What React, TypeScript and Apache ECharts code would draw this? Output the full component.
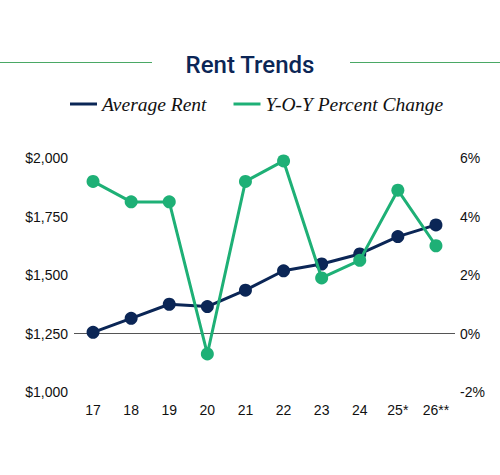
import React, { useEffect, useRef } from "react";
import * as echarts from "echarts";

const years = ["17", "18", "19", "20", "21", "22", "23", "24", "25*", "26**"];
const averageRent = [1255, 1315, 1375, 1365, 1435, 1518, 1547, 1590, 1664, 1714];
const yoyChange = [5.2, 4.5, 4.5, -0.7, 5.2, 5.9, 1.9, 2.5, 4.9, 3.0];
const rentTicks = [1000, 1250, 1500, 1750, 2000];
const pctTicks = [-2, 0, 2, 4, 6];

const NAVY = "#0b2656";
const GREEN = "#1eb076";

function fmtRent(v: number) {
  return "$" + v.toLocaleString("en-US");
}

export default function App() {
  const ref = useRef<HTMLDivElement>(null);
  useEffect(() => {
    document.body.style.margin = "0";
    if (!ref.current) return;
    const chart = echarts.init(ref.current, undefined, { renderer: "svg" });
    chart.setOption({
      animation: false,
      backgroundColor: "#ffffff",
      title: {
        text: "Rent Trends",
        left: "center",
        top: 48,
        textStyle: {
          fontFamily: "Roboto",
          fontWeight: 500,
          fontSize: 24,
          color: NAVY,
        },
      },
      graphic: [
        {
          type: "line",
          shape: { x1: 0, y1: 62.5, x2: 152, y2: 62.5 },
          style: { stroke: "#4aa865", lineWidth: 1.2 },
        },
        {
          type: "line",
          shape: { x1: 350, y1: 62.5, x2: 500, y2: 62.5 },
          style: { stroke: "#4aa865", lineWidth: 1.2 },
        },
      ],
      legend: {
        left: 65,
        top: 89,
        icon: "rect",
        itemWidth: 27,
        itemHeight: 3,
        itemGap: 27,
        textStyle: {
          fontFamily: "Liberation Serif",
          fontStyle: "italic",
          fontSize: 19.5,
          color: "#111111",
        },
        data: ["Average Rent", "Y-O-Y Percent Change"],
      },
      grid: { left: 74, right: 45, top: 158, bottom: 83 },
      xAxis: {
        type: "category",
        data: years,
        axisLine: { show: false },
        axisTick: { show: false },
        axisLabel: {
          fontFamily: "Liberation Sans",
          fontSize: 14,
          color: "#111111",
          margin: 11,
        },
      },
      yAxis: [
        {
          type: "value",
          min: rentTicks[0],
          max: rentTicks[rentTicks.length - 1],
          interval: 250,
          axisLine: { show: false },
          axisTick: { show: false },
          splitLine: { show: false },
          axisLabel: {
            fontFamily: "Liberation Sans",
            fontSize: 14,
            color: "#111111",
            margin: 6,
            formatter: (v: number) => fmtRent(v),
          },
        },
        {
          type: "value",
          min: pctTicks[0],
          max: pctTicks[pctTicks.length - 1],
          interval: 2,
          axisLine: { show: false },
          axisTick: { show: false },
          splitLine: { show: false },
          axisLabel: {
            fontFamily: "Liberation Sans",
            fontSize: 14,
            color: "#111111",
            margin: 5,
            formatter: (v: number) => v + "%",
          },
        },
      ],
      series: [
        {
          name: "Average Rent",
          type: "line",
          yAxisIndex: 0,
          data: averageRent,
          symbol: "circle",
          symbolSize: 13,
          lineStyle: { color: NAVY, width: 3 },
          itemStyle: { color: NAVY },
          color: NAVY,
          z: 3,
        },
        {
          name: "Y-O-Y Percent Change",
          type: "line",
          yAxisIndex: 1,
          data: yoyChange,
          symbol: "circle",
          symbolSize: 13,
          lineStyle: { color: GREEN, width: 3 },
          itemStyle: { color: GREEN },
          color: GREEN,
          z: 4,
          markLine: {
            silent: true,
            symbol: "none",
            label: { show: false },
            lineStyle: { color: "#555555", width: 1, type: "solid" },
            data: [{ yAxis: 0 }],
            z: 1,
          },
        },
      ],
    });
    return () => chart.dispose();
  }, []);
  return <div ref={ref} style={{ width: 500, height: 475 }} />;
}
